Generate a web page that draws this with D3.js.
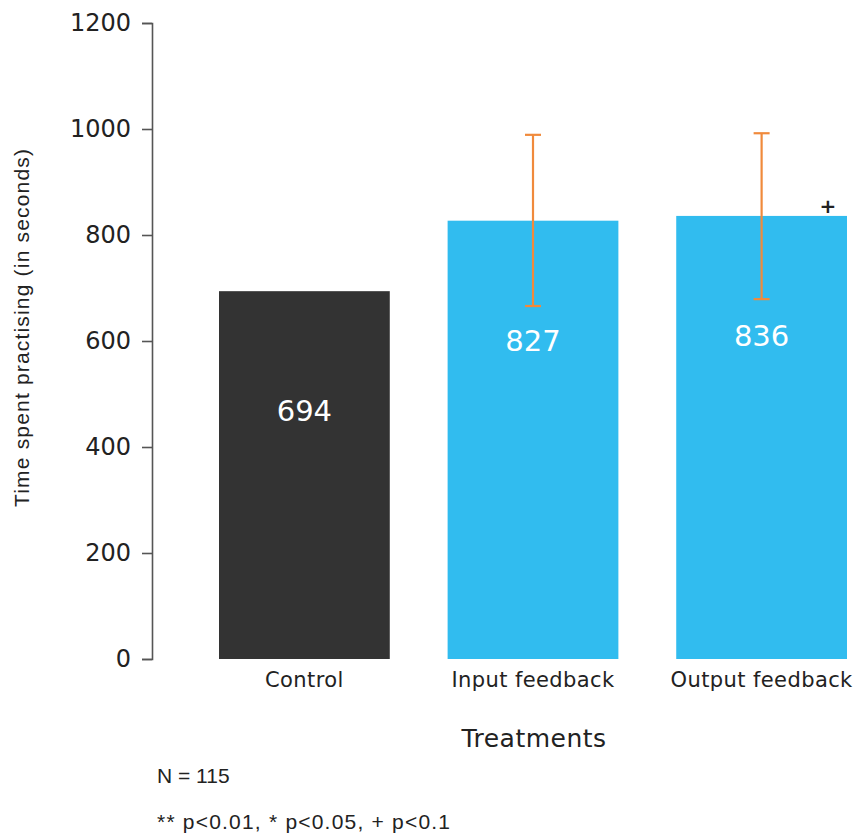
<!DOCTYPE html>
<html>
<head>
<meta charset="utf-8">
<script src="https://cdn.jsdelivr.net/npm/d3@7"></script>
<style>
  body { margin: 0; background: #fff; }
  svg text { font-family: "DejaVu Sans", sans-serif; fill: #222; }
  svg text.plain { font-family: "Liberation Sans", Arial, sans-serif; }
</style>
</head>
<body>
<div id="chart"></div>
<script>

// DATA
let treatments = ["Control", "Input feedback", "Output feedback"];
let meanTime = [694, 827, 836];
let errLow = [null, 666, 679];
let errHigh = [null, 989, 992];
let signif = ["", "", "+"];
let yTicks = [0, 200, 400, 600, 800, 1000, 1200];

let data = treatments.map((t, i) => ({
    name: t, value: meanTime[i], lo: errLow[i], hi: errHigh[i], sig: signif[i]
}));

// CHART AREA
let W = 859, H = 837;

let svg = d3.select("#chart").append("svg")
    .attr("width", W)
    .attr("height", H);

// SCALES
let x = d3.scaleBand()
    .domain(treatments)
    .range([219, 847])
    .paddingInner(0.253)
    .paddingOuter(0);

let y = d3.scaleLinear()
    .domain([0, 1200])
    .range([659, 23]);

// Y AXIS
let yAxis = d3.axisLeft(y)
    .tickValues(yTicks)
    .tickFormat(d3.format("d"))
    .tickSize(10)
    .tickPadding(11);

let yAxisGroup = svg.append("g")
    .attr("class", "y-axis")
    .attr("transform", "translate(152,0)")
    .call(yAxis);

yAxisGroup.selectAll("path, line")
    .attr("stroke", "#555")
    .attr("stroke-width", 1.6);
yAxisGroup.selectAll("text")
    .style("font-family", "DejaVu Sans, sans-serif")
    .style("font-size", "24px")
    .style("fill", "#222");

// BARS
svg.selectAll(".bar")
    .data(data)
    .enter()
    .append("rect")
    .attr("class", "bar")
    .attr("x", d => x(d.name))
    .attr("y", d => y(d.value))
    .attr("width", x.bandwidth())
    .attr("height", d => y(0) - y(d.value))
    .attr("fill", (d, i) => i === 0 ? "#333333" : "#31BCEF");

// VALUE LABELS
svg.selectAll(".val")
    .data(data)
    .enter()
    .append("text")
    .attr("class", "val")
    .attr("x", d => x(d.name) + x.bandwidth() / 2)
    .attr("y", (d, i) => i === 0 ? 421 : y(d.value) + 130)
    .attr("text-anchor", "middle")
    .style("font-size", "29px")
    .style("fill", "#fff")
    .text(d => d.value);

// ERROR BARS
let errData = data.filter(d => d.lo !== null);
let eb = svg.selectAll(".err")
    .data(errData)
    .enter()
    .append("g")
    .attr("class", "err")
    .attr("stroke", "#F08A3C")
    .attr("stroke-width", 2.2);

eb.append("line")
    .attr("x1", d => x(d.name) + x.bandwidth() / 2)
    .attr("x2", d => x(d.name) + x.bandwidth() / 2)
    .attr("y1", d => y(d.lo))
    .attr("y2", d => y(d.hi));
eb.append("line")
    .attr("x1", d => x(d.name) + x.bandwidth() / 2 - 8)
    .attr("x2", d => x(d.name) + x.bandwidth() / 2 + 8)
    .attr("y1", d => y(d.hi))
    .attr("y2", d => y(d.hi));
eb.append("line")
    .attr("x1", d => x(d.name) + x.bandwidth() / 2 - 8)
    .attr("x2", d => x(d.name) + x.bandwidth() / 2 + 8)
    .attr("y1", d => y(d.lo))
    .attr("y2", d => y(d.lo));

// SIGNIFICANCE MARK
svg.selectAll(".sig")
    .data(data.filter(d => d.sig))
    .enter()
    .append("text")
    .attr("class", "sig")
    .attr("x", d => x(d.name) + x.bandwidth() - 19)
    .attr("y", d => y(d.value) - 3)
    .attr("text-anchor", "middle")
    .style("font-size", "20px")
    .style("font-weight", "bold")
    .text(d => d.sig);

// X LABELS
let xAxis = d3.axisBottom(x).tickSize(0).tickPadding(13);
let xAxisGroup = svg.append("g")
    .attr("class", "x-axis")
    .attr("transform", "translate(0,659)")
    .call(xAxis);
xAxisGroup.select(".domain").remove();
xAxisGroup.selectAll("text")
    .style("font-family", "DejaVu Sans, sans-serif")
    .style("font-size", "21px")
    .style("letter-spacing", "0.4px")
    .style("fill", "#222");

// AXIS TITLES
svg.append("text")
    .attr("x", 534)
    .attr("y", 747)
    .attr("text-anchor", "middle")
    .style("font-size", "25px")
    .style("letter-spacing", "0.5px")
    .text("Treatments");

svg.append("text")
    .attr("class", "plain")
    .attr("transform", "translate(29,328) rotate(-90)")
    .attr("text-anchor", "middle")
    .attr("textLength", 358)
    .attr("lengthAdjust", "spacing")
    .style("font-size", "21px")
    .text("Time spent practising (in seconds)");

// NOTES
svg.append("text")
    .attr("class", "plain")
    .attr("x", 157)
    .attr("y", 783)
    .style("font-size", "21px")
    .text("N = 115");

svg.append("text")
    .attr("class", "plain")
    .attr("x", 157)
    .attr("y", 829)
    .attr("textLength", 293)
    .attr("lengthAdjust", "spacing")
    .style("font-size", "21px")
    .text("** p<0.01, * p<0.05, + p<0.1");

</script>
</body>
</html>
